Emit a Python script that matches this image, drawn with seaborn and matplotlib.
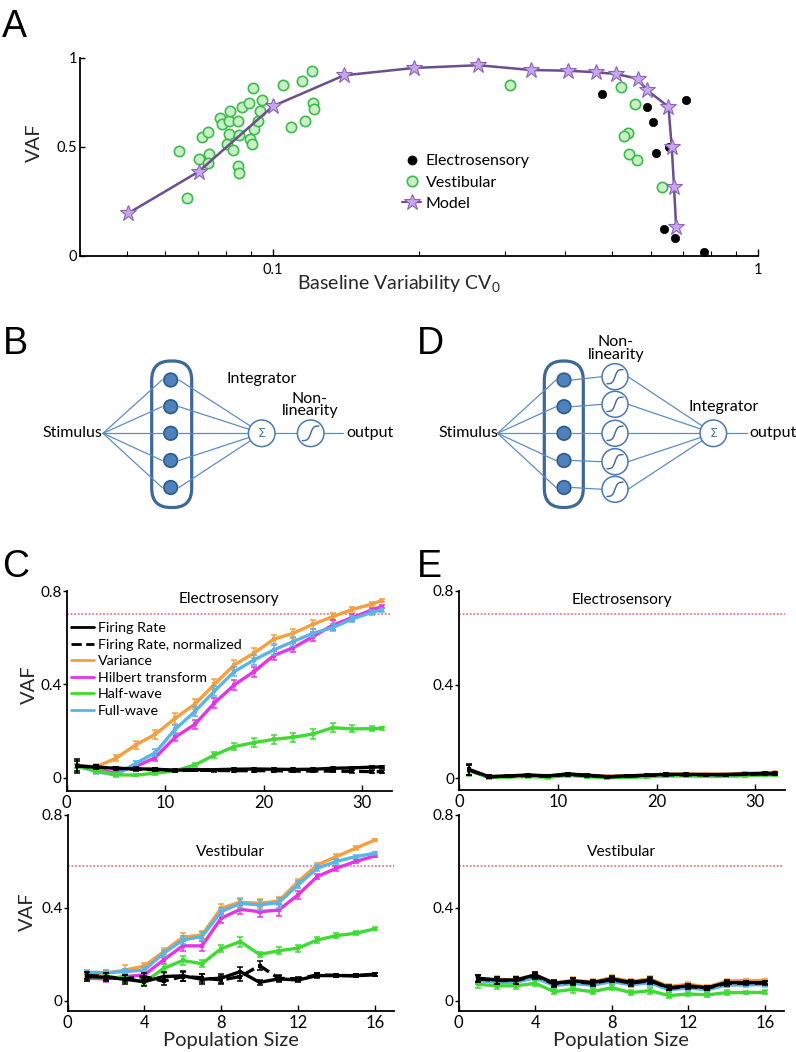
import numpy as np
import pandas as pd
import matplotlib
matplotlib.use("Agg")
import matplotlib.pyplot as plt
import seaborn as sns
from matplotlib.patches import Circle, FancyBboxPatch
from matplotlib.lines import Line2D

# ---------------- Panel A data ----------------
model_cv = [0.0503, 0.0702, 0.100, 0.140, 0.195, 0.265, 0.340, 0.405, 0.463, 0.509,
            0.564, 0.589, 0.653, 0.663, 0.6705, 0.677]
model_vaf = [0.167, 0.369, 0.722, 0.897, 0.940, 0.956, 0.928, 0.924, 0.915, 0.905,
             0.878, 0.813, 0.718, 0.500, 0.293, 0.107]
elec_cv = [0.477, 0.709, 0.589, 0.608, 0.654, 0.615, 0.640, 0.675, 0.773]
elec_vaf = [0.788, 0.755, 0.718, 0.633, 0.496, 0.468, 0.096, 0.060, 0.009]
vest_cv = [0.0639, 0.0666, 0.0705, 0.0712, 0.0736, 0.0738, 0.0735, 0.0776, 0.0784, 0.0810,
           0.0817, 0.0805, 0.0813, 0.0826, 0.0847, 0.0850, 0.0848, 0.0851, 0.0863, 0.0892,
           0.0908, 0.0895, 0.0905, 0.0915, 0.0931, 0.0949, 0.0942, 0.1050, 0.1149, 0.1205,
           0.1209, 0.1216, 0.1087, 0.1162,
           0.3077, 0.5216, 0.5567, 0.5399, 0.5290, 0.5416, 0.5618, 0.6340]
vest_vaf = [0.478, 0.240, 0.436, 0.552, 0.579, 0.462, 0.416, 0.657, 0.622, 0.639,
            0.696, 0.512, 0.569, 0.480, 0.638, 0.562, 0.400, 0.364, 0.715, 0.739,
            0.823, 0.539, 0.516, 0.593, 0.639, 0.756, 0.696, 0.841, 0.863, 0.920,
            0.739, 0.703, 0.604, 0.641,
            0.840, 0.828, 0.732, 0.575, 0.555, 0.462, 0.429, 0.292]
a_xticks = [0.1, 1]
a_xticklabels = ["0.1", "1"]
a_yticks = [0, 0.5, 1]
a_yticklabels = ["0", "0.5", "1"]

# ---------------- Panels C / E data ----------------
series_names = ["Firing Rate", "Firing Rate, normalized", "Variance",
                "Hilbert transform", "Half-wave", "Full-wave"]
pop_e = [1, 3, 5, 7, 9, 11, 13, 15, 17, 19, 21, 23, 25, 27, 29, 31, 32]
pop_v = [1, 2, 3, 4, 5, 6, 7, 8, 9, 10, 11, 12, 13, 14, 15, 16]

# C, electrosensory
fr_e = [0.050, 0.045, 0.040, 0.038, 0.036, 0.032, 0.034, 0.034, 0.036, 0.037, 0.036, 0.035, 0.036, 0.040, 0.042, 0.045, 0.046]
frn_e = [0.050, 0.045, 0.040, 0.036, 0.034, 0.030, 0.032, 0.031, 0.030, 0.030, 0.030, 0.028, 0.029, 0.028, 0.027, 0.026, 0.026]
var_e = [0.050, 0.047, 0.083, 0.140, 0.186, 0.254, 0.315, 0.400, 0.483, 0.533, 0.593, 0.619, 0.657, 0.690, 0.721, 0.744, 0.759]
hil_e = [0.050, 0.030, 0.022, 0.047, 0.086, 0.173, 0.228, 0.320, 0.397, 0.454, 0.523, 0.557, 0.604, 0.654, 0.686, 0.719, 0.733]
half_e = [0.050, 0.030, 0.012, 0.011, 0.019, 0.029, 0.054, 0.097, 0.133, 0.150, 0.164, 0.173, 0.187, 0.214, 0.209, 0.210, 0.211]
full_e = [0.050, 0.026, 0.011, 0.061, 0.107, 0.207, 0.283, 0.371, 0.454, 0.504, 0.547, 0.583, 0.619, 0.643, 0.680, 0.709, 0.719]
fr_e_err = [0.028, 0.008, 0.006, 0.006, 0.006, 0.006, 0.005, 0.005, 0.005, 0.005, 0.005, 0.005, 0.005, 0.005, 0.005, 0.005, 0.005]
frn_e_err = [0.020, 0.008, 0.006, 0.006, 0.006, 0.006, 0.005, 0.005, 0.005, 0.005, 0.005, 0.005, 0.005, 0.005, 0.005, 0.005, 0.005]
var_e_err = [0.010, 0.010, 0.012, 0.018, 0.020, 0.022, 0.022, 0.022, 0.020, 0.022, 0.020, 0.020, 0.018, 0.016, 0.012, 0.010, 0.006]
hil_e_err = [0.010, 0.010, 0.010, 0.012, 0.015, 0.018, 0.020, 0.022, 0.020, 0.022, 0.020, 0.018, 0.020, 0.020, 0.015, 0.010, 0.008]
half_e_err = [0.008, 0.006, 0.006, 0.006, 0.006, 0.006, 0.008, 0.012, 0.015, 0.018, 0.020, 0.020, 0.020, 0.020, 0.015, 0.010, 0.008]
full_e_err = [0.010, 0.010, 0.010, 0.012, 0.015, 0.020, 0.020, 0.020, 0.020, 0.020, 0.020, 0.018, 0.018, 0.015, 0.012, 0.010, 0.008]

# C, vestibular
fr_v = [0.105, 0.102, 0.093, 0.083, 0.105, 0.108, 0.093, 0.098, 0.126, 0.080, 0.095, 0.090, 0.109, 0.109, 0.109, 0.115]
frn_v = [0.110, 0.105, 0.095, 0.105, 0.085, 0.105, 0.100, 0.090, 0.105, 0.152, 0.097, 0.095, 0.112, 0.110, 0.108, 0.113]
var_v = [0.116, 0.119, 0.133, 0.150, 0.212, 0.274, 0.284, 0.399, 0.425, 0.420, 0.430, 0.513, 0.585, 0.621, 0.657, 0.692]
hil_v = [0.098, 0.095, 0.105, 0.112, 0.176, 0.237, 0.237, 0.356, 0.394, 0.384, 0.391, 0.456, 0.535, 0.571, 0.600, 0.624]
half_v = [0.105, 0.100, 0.100, 0.080, 0.140, 0.174, 0.160, 0.225, 0.255, 0.200, 0.216, 0.227, 0.262, 0.281, 0.291, 0.310]
full_v = [0.123, 0.122, 0.126, 0.133, 0.205, 0.262, 0.277, 0.384, 0.420, 0.413, 0.423, 0.499, 0.571, 0.600, 0.621, 0.635]
fr_v_err = [0.020, 0.018, 0.018, 0.018, 0.020, 0.022, 0.022, 0.020, 0.020, 0.010, 0.015, 0.010, 0.012, 0.008, 0.006, 0.006]
frn_v_err = [0.015, 0.015, 0.015, 0.015, 0.018, 0.018, 0.018, 0.018, 0.018, 0.020, 0.012, 0.010, 0.010, 0.008, 0.006, 0.006]
var_v_err = [0.012, 0.012, 0.020, 0.015, 0.015, 0.018, 0.018, 0.018, 0.018, 0.018, 0.018, 0.012, 0.010, 0.010, 0.008, 0.006]
hil_v_err = [0.012, 0.012, 0.012, 0.012, 0.015, 0.020, 0.020, 0.020, 0.020, 0.025, 0.025, 0.018, 0.012, 0.010, 0.008, 0.006]
half_v_err = [0.010, 0.010, 0.010, 0.012, 0.018, 0.020, 0.015, 0.015, 0.022, 0.012, 0.015, 0.015, 0.012, 0.010, 0.008, 0.006]
full_v_err = [0.012, 0.012, 0.012, 0.012, 0.015, 0.018, 0.018, 0.018, 0.018, 0.022, 0.022, 0.015, 0.012, 0.010, 0.008, 0.006]

# E, electrosensory
fr_e2 = [0.038, 0.007, 0.010, 0.014, 0.010, 0.0185, 0.013, 0.007, 0.010, 0.013, 0.017, 0.017, 0.016, 0.016, 0.0185, 0.021, 0.021]
frn_e2 = [0.036, 0.006, 0.009, 0.012, 0.009, 0.016, 0.012, 0.006, 0.009, 0.012, 0.015, 0.015, 0.015, 0.015, 0.017, 0.019, 0.019]
var_e2 = [0.036, 0.008, 0.010, 0.014, 0.011, 0.019, 0.014, 0.008, 0.011, 0.014, 0.018, 0.018, 0.018, 0.019, 0.021, 0.024, 0.025]
hil_e2 = [0.035, 0.006, 0.009, 0.012, 0.009, 0.016, 0.012, 0.006, 0.009, 0.012, 0.015, 0.015, 0.015, 0.015, 0.017, 0.019, 0.019]
half_e2 = [0.033, 0.004, 0.005, 0.008, 0.004, 0.012, 0.007, 0.002, 0.004, 0.006, 0.010, 0.010, 0.008, 0.008, 0.011, 0.014, 0.014]
full_e2 = [0.035, 0.005, 0.008, 0.011, 0.008, 0.015, 0.011, 0.005, 0.008, 0.011, 0.014, 0.014, 0.014, 0.014, 0.016, 0.018, 0.018]
e2_err = [0.022, 0.006, 0.005, 0.005, 0.005, 0.005, 0.005, 0.004, 0.004, 0.004, 0.004, 0.004, 0.004, 0.004, 0.004, 0.004, 0.004]

# E, vestibular
fr_v2 = [0.098, 0.090, 0.090, 0.112, 0.076, 0.086, 0.079, 0.095, 0.080, 0.090, 0.057, 0.065, 0.057, 0.079, 0.079, 0.079]
frn_v2 = [0.095, 0.088, 0.088, 0.108, 0.073, 0.083, 0.076, 0.092, 0.077, 0.087, 0.055, 0.062, 0.055, 0.076, 0.076, 0.077]
var_v2 = [0.098, 0.092, 0.092, 0.112, 0.078, 0.089, 0.082, 0.100, 0.084, 0.095, 0.062, 0.072, 0.060, 0.086, 0.088, 0.088]
hil_v2 = [0.090, 0.083, 0.083, 0.103, 0.068, 0.078, 0.070, 0.086, 0.072, 0.080, 0.050, 0.058, 0.050, 0.071, 0.071, 0.072]
half_v2 = [0.072, 0.065, 0.065, 0.076, 0.040, 0.050, 0.040, 0.057, 0.036, 0.044, 0.023, 0.030, 0.026, 0.036, 0.036, 0.037]
full_v2 = [0.088, 0.080, 0.080, 0.100, 0.066, 0.075, 0.068, 0.083, 0.070, 0.078, 0.048, 0.056, 0.048, 0.068, 0.069, 0.070]
v2_err = [0.015, 0.015, 0.015, 0.012, 0.012, 0.014, 0.012, 0.012, 0.012, 0.012, 0.010, 0.010, 0.008, 0.010, 0.008, 0.008]

e_xticks = [0, 10, 20, 30]
v_xticks = [0, 4, 8, 12, 16]
c_yticks = [0, 0.4, 0.8]
c_yticklabels = ["0", "0.4", "0.8"]
elec_ceiling = 0.70
vest_ceiling = 0.58

# ---------------- style ----------------
sns.set_theme(style="ticks")
plt.rcParams["font.family"] = ["Lato", "DejaVu Sans"]
plt.rcParams["mathtext.fontset"] = "custom"
plt.rcParams["mathtext.rm"] = "Lato"
plt.rcParams["axes.edgecolor"] = "black"
plt.rcParams["xtick.color"] = "black"
plt.rcParams["ytick.color"] = "black"
plt.rcParams["text.color"] = "black"

COL = {"Firing Rate": "black", "Firing Rate, normalized": "black",
       "Variance": "#F5A03C", "Hilbert transform": "#E633E6",
       "Half-wave": "#3EDC32", "Full-wave": "#5BB4E6"}
DIAG = "#5F8CC2"
DIAG_DARK = "#3F6797"

W, H = 796, 1052
fig = plt.figure(figsize=(W / 100, H / 100), dpi=100)
fig.patch.set_facecolor("white")

# overlay in pixel coordinates for diagrams / panel letters
ov = fig.add_axes([0, 0, 1, 1])
ov.set_xlim(0, W)
ov.set_ylim(H, 0)
ov.set_axis_off()


def px_axes(l, t, r, b):
    return fig.add_axes([l / W, 1 - b / H, (r - l) / W, (b - t) / H])


def style_spines(ax):
    sns.despine(ax=ax)
    for s in ["left", "bottom"]:
        ax.spines[s].set_linewidth(1.3)
        ax.spines[s].set_color("black")


# ---------------- Panel A ----------------
axA = px_axes(80, 57.7, 758.3, 255.7)
axA.set_xscale("log")
pw = 0.86
axA.set_yscale("function", functions=(lambda y: np.sign(y) * np.abs(y) ** pw,
                                      lambda y: np.sign(y) * np.abs(y) ** (1 / pw)))
sns.lineplot(x=model_cv, y=model_vaf, ax=axA, estimator=None, sort=False,
             color="#6C4E8E", lw=1.8, marker="*", markersize=12,
             markerfacecolor="#C6A8EA", markeredgecolor="#8A63BA",
             markeredgewidth=0.8, zorder=4, legend=False)
sns.scatterplot(x=vest_cv, y=vest_vaf, ax=axA, s=55, color="#C9EFC5",
                edgecolor="#3DBA4E", linewidth=1.2, zorder=3, legend=False)
sns.scatterplot(x=elec_cv, y=elec_vaf, ax=axA, s=36, color="black",
                edgecolor="black", linewidth=0.5, zorder=3, legend=False)
axA.set_xlim(0.04, 1.0)
axA.set_ylim(0, 1)
axA.set_xticks(a_xticks)
axA.set_xticklabels(a_xticklabels)
axA.set_yticks(a_yticks)
axA.set_yticklabels(a_yticklabels)
axA.minorticks_on()
axA.yaxis.set_minor_locator(matplotlib.ticker.NullLocator())
axA.tick_params(axis="x", which="major", direction="in", length=5, width=1, labelsize=10.5, pad=5)
axA.tick_params(axis="x", which="minor", direction="in", length=3.5, width=0.8)
axA.tick_params(axis="y", which="major", direction="in", length=3.5, width=1, labelsize=10.5, pad=2)
style_spines(axA)
axA.set_xlabel(r"Baseline Variability CV$_\mathrm{0}$", fontsize=14, labelpad=1)
axA.xaxis.set_label_coords(0.47, -0.09)
axA.set_ylabel("VAF", fontsize=14.5)
axA.yaxis.set_label_coords(-0.055, 0.57)
leg_handles = [
    Line2D([], [], ls="none", marker="o", color="black", markersize=6),
    Line2D([], [], ls="none", marker="o", markerfacecolor="#C9EFC5",
           markeredgecolor="#3DBA4E", markeredgewidth=1.2, markersize=7.5),
    Line2D([], [], ls="-", color="#6C4E8E", lw=1.5, marker="*", markersize=12,
           markerfacecolor="#C6A8EA", markeredgecolor="#8A63BA", markeredgewidth=0.8),
]
axA.legend(leg_handles, ["Electrosensory", "Vestibular", "Model"],
           loc="upper left", bbox_to_anchor=(402 / W, 1 - 154 / H),
           bbox_transform=fig.transFigure, frameon=False, fontsize=11.5,
           handlelength=1.2, handletextpad=0.3, labelspacing=0.45,
           borderpad=0, borderaxespad=0)


# ---------------- Panels C and E ----------------
def draw_panel(ax, x, ys, errs, xlim, ylim, xticks, ceiling, title, title_y,
               ylabel=None, ylabel_coords=None, xlabel=None, legend=False):
    order = ["Variance", "Hilbert transform", "Full-wave", "Half-wave",
             "Firing Rate, normalized", "Firing Rate"]
    for z, name in enumerate(order):
        col = COL[name]
        df = pd.DataFrame({"Population": x, "VAF": ys[name]})
        ls = "--" if name == "Firing Rate, normalized" else "-"
        sns.lineplot(data=df, x="Population", y="VAF", ax=ax, color=col, lw=2.4,
                     linestyle=ls, marker="s", markersize=3.2, markeredgewidth=0,
                     estimator=None, zorder=3 + z, legend=False)
        ax.errorbar(x, ys[name], yerr=errs[name], fmt="none", ecolor=col,
                    elinewidth=1.1, capsize=2.5, capthick=1.1, zorder=3 + z)
    ax.axhline(ceiling, color="#E27F86", lw=1.3, ls=(0, (1, 1)), zorder=1)
    ax.set_xlim(*xlim)
    ax.set_ylim(*ylim)
    ax.set_xticks(xticks)
    ax.set_xticklabels([str(t) for t in xticks])
    ax.set_yticks(c_yticks)
    ax.set_yticklabels(c_yticklabels)
    ax.tick_params(axis="x", direction="in", length=4, width=1, labelsize=12, pad=3)
    ax.tick_params(axis="y", direction="out", length=3, width=1, labelsize=11, pad=0.5)
    style_spines(ax)
    ax.text(0.5, title_y, title, transform=ax.transAxes, ha="center", va="center",
            fontsize=11.2)
    if ylabel:
        ax.set_ylabel(ylabel, fontsize=14.5)
        ax.yaxis.set_label_coords(*ylabel_coords)
    else:
        ax.set_ylabel("")
    if xlabel:
        ax.set_xlabel(xlabel, fontsize=14.5, labelpad=1)
    else:
        ax.set_xlabel("")
    if legend:
        handles = [Line2D([], [], color=COL[n], lw=2,
                          ls="--" if n == "Firing Rate, normalized" else "-")
                   for n in series_names]
        ax.legend(handles, series_names, loc="upper left",
                  bbox_to_anchor=(71 / W, 1 - 622 / H), bbox_transform=fig.transFigure,
                  frameon=False, fontsize=10.3, handlelength=1.6, handletextpad=0.3,
                  labelspacing=0.32, borderpad=0, borderaxespad=0)


ys_ce = dict(zip(series_names, [fr_e, frn_e, var_e, hil_e, half_e, full_e]))
er_ce = dict(zip(series_names, [fr_e_err, frn_e_err, var_e_err, hil_e_err, half_e_err, full_e_err]))
ys_cv = dict(zip(series_names, [fr_v, frn_v, var_v, hil_v, half_v, full_v]))
er_cv = dict(zip(series_names, [fr_v_err, frn_v_err, var_v_err, hil_v_err, half_v_err, full_v_err]))
ys_ee = dict(zip(series_names, [fr_e2, frn_e2, var_e2, hil_e2, half_e2, full_e2]))
er_ee = dict(zip(series_names, [e2_err] * 6))
ys_ev = dict(zip(series_names, [fr_v2, frn_v2, var_v2, hil_v2, half_v2, full_v2]))
er_ev = dict(zip(series_names, [v2_err] * 6))

axC1 = px_axes(66.7, 591, 391.7, 790.7)
draw_panel(axC1, pop_e, ys_ce, er_ce, (0, 33), (-0.056, 0.8), e_xticks, elec_ceiling,
           "Electrosensory", 0.96, ylabel="VAF", ylabel_coords=(-0.088, 0.53), legend=True)
axC2 = px_axes(67.5, 815, 394, 1010.7)
draw_panel(axC2, pop_v, ys_cv, er_cv, (0, 17), (-0.042, 0.8), v_xticks, vest_ceiling,
           "Vestibular", 0.81, ylabel="VAF", ylabel_coords=(-0.098, 0.505),
           xlabel="Population Size")
axE1 = px_axes(459, 591, 785, 790)
draw_panel(axE1, pop_e, ys_ee, er_ee, (0, 33), (-0.05, 0.8), e_xticks, elec_ceiling,
           "Electrosensory", 0.955)
axE2 = px_axes(458.5, 815, 784, 1010.7)
draw_panel(axE2, pop_v, ys_ev, er_ev, (0, 17), (-0.042, 0.8), v_xticks, vest_ceiling,
           "Vestibular", 0.81, xlabel="Population Size")


# ---------------- Diagrams B and D ----------------
node_y = [380.0, 406.7, 433.3, 460.5, 487.5]
diag_fs = 11.5


def sigmoid_glyph(cx, cy, r):
    t = np.linspace(-0.62 * r, 0.62 * r, 40)
    ov.plot(cx + t, cy - 0.55 * r * np.tanh(t / (0.2 * r)), color=DIAG_DARK, lw=1.0,
            zorder=6)


def unit_circle(cx, cy, r, kind):
    ov.add_patch(Circle((cx, cy), r, fc="white", ec="#4A78B0", lw=1.1, zorder=5))
    if kind == "sum":
        ov.text(cx, cy, "Σ", ha="center", va="center", fontsize=9, color="#4A78B0",
                family="DejaVu Sans", zorder=6)
    else:
        sigmoid_glyph(cx, cy, r)


def to_edge(cx, cy, r, px, py):
    d = np.hypot(px - cx, py - cy)
    return cx + r * (px - cx) / d, cy + r * (py - cy) / d


def population(x0, width, cx):
    ov.add_patch(FancyBboxPatch((x0, 361), width, 146.5,
                                boxstyle="round,pad=0,rounding_size=19",
                                fc="none", ec=DIAG_DARK, lw=2.3, zorder=2))
    for y in node_y:
        ov.add_patch(Circle((cx, y), 6.8, fc="#4F81BD", ec="#2C5A8C", lw=1.2, zorder=4))


# Panel B
ov.text(72, 433.3, "Stimulus", ha="center", va="center", fontsize=diag_fs)
population(151.7, 40, 170.7)
for y in node_y:
    ov.plot([103, 162], [433.3, y], color=DIAG, lw=0.9)
    ex, ey = to_edge(261.7, 433.3, 13.3, 179, y)
    ov.plot([179, ex], [y, ey], color=DIAG, lw=0.9)
unit_circle(261.7, 433.3, 13.3, "sum")
ov.text(262, 378.5, "Integrator", ha="center", va="center", fontsize=diag_fs)
ov.plot([275, 297.4], [433.3, 433.3], color=DIAG, lw=0.9)
unit_circle(310.7, 433.3, 13.3, "sig")
ov.text(310, 405, "Non-\nlinearity", ha="center", va="center", fontsize=diag_fs,
        linespacing=0.85)
ov.plot([324, 343.3], [433.3, 433.3], color=DIAG, lw=0.9)
ov.text(346.5, 433.3, "output", ha="left", va="center", fontsize=diag_fs)

# Panel D
nl_y = [376.7, 404.3, 433.3, 461.7, 489.3]
ov.text(468, 433.3, "Stimulus", ha="center", va="center", fontsize=diag_fs)
population(544.3, 39, 564)
for y, yc in zip(node_y, nl_y):
    ov.plot([497.5, 556], [433.3, y], color=DIAG, lw=0.9)
    ov.plot([572, 602], [y, yc], color=DIAG, lw=0.9)
    unit_circle(615, yc, 13, "sig")
    ex, ey = to_edge(713.3, 433.3, 13.3, 628, yc)
    ov.plot([628, ex], [yc, ey], color=DIAG, lw=0.9)
unit_circle(713.3, 433.3, 13.3, "sum")
ov.text(724, 406.7, "Integrator", ha="center", va="center", fontsize=diag_fs)
ov.text(615.8, 348.5, "Non-\nlinearity", ha="center", va="center", fontsize=diag_fs,
        linespacing=0.85)
ov.plot([726.6, 746.7], [433.3, 433.3], color=DIAG, lw=0.9)
ov.text(749.3, 433.3, "output", ha="left", va="center", fontsize=diag_fs)

# Panel letters
for letter, x, y in [("A", 2, 36.7), ("B", 2.5, 354), ("C", 2, 577),
                     ("D", 417, 354), ("E", 416.5, 577)]:
    ov.text(x, y, letter, ha="left", va="baseline", fontsize=27,
            family=["Liberation Sans", "DejaVu Sans"])

fig.savefig("out.png", dpi=100, facecolor="white")
